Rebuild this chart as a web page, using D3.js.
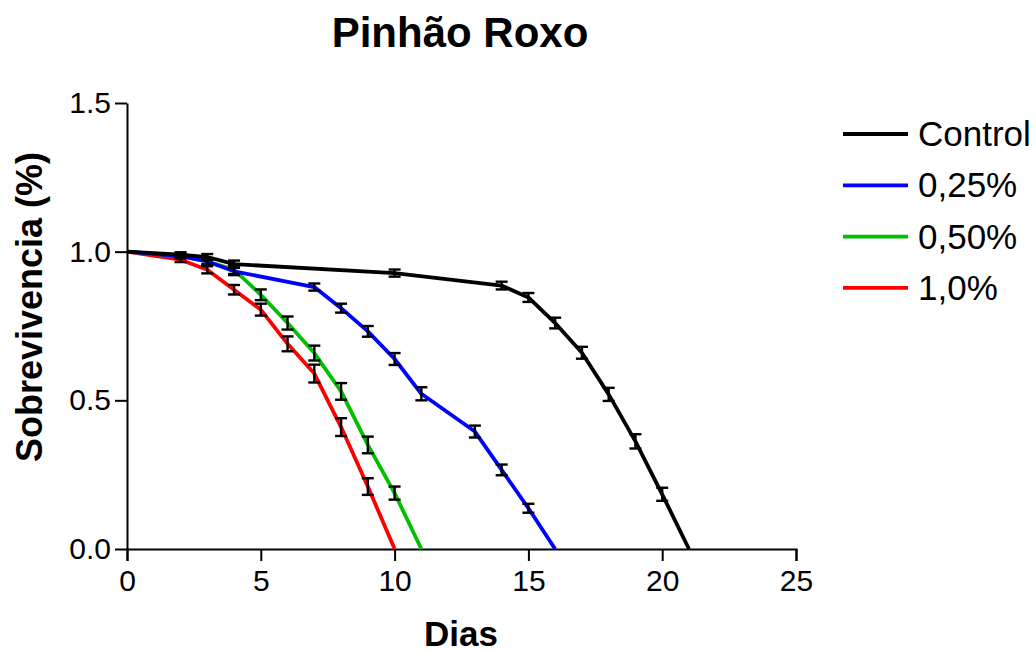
<!DOCTYPE html>
<html>
<head>
<meta charset="utf-8">
<script src="https://cdn.jsdelivr.net/npm/d3@7"></script>
<style>
  body { margin: 0; background: #fff; }
  text { font-family: Arial, "Liberation Sans", sans-serif; }
  .axis path, .axis line { stroke: #000; stroke-width: 2px; }
  .axis text { font-size: 30px; fill: #000; }
</style>
</head>
<body>
<div id="container"></div>
<script>
const width = 1036
const height = 652
const margin = { top: 103, right: 240, bottom: 103, left: 127 }
const w = width - margin.left - margin.right
const h = height - margin.top - margin.bottom

// ---------------------------- DATA ----------------------------//
const seriesNames = ['Control', '0,25%', '0,50%', '1,0%']
const seriesColors = ['#000000', '#0000ff', '#00c000', '#ff0000']

// dias, sobrevivencia, erro padrao
const controlDays = [0, 2, 3, 4, 10, 14, 15, 16, 17, 18, 19, 20, 21]
const controlVals = [1.0, 0.99, 0.982, 0.958, 0.928, 0.886, 0.846, 0.76, 0.66, 0.52, 0.362, 0.184, 0]
const controlErr = [0, 0.008, 0.01, 0.012, 0.012, 0.013, 0.015, 0.018, 0.02, 0.022, 0.024, 0.022, 0]

const d025Days = [0, 2, 3, 4, 7, 8, 9, 10, 11, 13, 14, 15, 16]
const d025Vals = [1.0, 0.985, 0.967, 0.934, 0.881, 0.81, 0.732, 0.639, 0.522, 0.395, 0.266, 0.137, 0]
const d025Err = [0, 0.008, 0.01, 0.013, 0.012, 0.015, 0.018, 0.02, 0.022, 0.02, 0.018, 0.015, 0]

const d050Days = [0, 2, 3, 4, 5, 6, 7, 8, 9, 10, 11]
const d050Vals = [1.0, 0.985, 0.967, 0.94, 0.855, 0.76, 0.659, 0.53, 0.35, 0.188, 0]
const d050Err = [0, 0, 0.01, 0.015, 0.018, 0.022, 0.025, 0.028, 0.028, 0.022, 0]

const d100Days = [0, 2, 3, 4, 5, 6, 7, 8, 9, 10]
const d100Vals = [1.0, 0.973, 0.939, 0.872, 0.805, 0.69, 0.59, 0.41, 0.21, 0]
const d100Err = [0, 0.008, 0.012, 0.016, 0.02, 0.025, 0.03, 0.03, 0.028, 0]

const xTicks = [0, 5, 10, 15, 20, 25]
const yTicks = [0.0, 0.5, 1.0, 1.5]

const toPoints = (days, vals, errs) => days.map((d, i) => ({ day: d, value: vals[i], err: errs[i] }))
const slices = [
    toPoints(controlDays, controlVals, controlErr),
    toPoints(d025Days, d025Vals, d025Err),
    toPoints(d050Days, d050Vals, d050Err),
    toPoints(d100Days, d100Vals, d100Err)
].map((values, i) => ({ id: seriesNames[i], color: seriesColors[i], values }))

// --------------------------- SVG ------------------------------//
const svg = d3.select('div#container').append('svg')
    .attr('width', width)
    .attr('height', height)

const g = svg.append('g')
    .attr('transform', `translate(${margin.left},${margin.top})`)

// ---------------------------- SCALES --------------------------//
const xScale = d3.scaleLinear().domain([0, 25]).range([0, w])
const yScale = d3.scaleLinear().domain([0, 1.5]).range([h, 0])

// ---------------------------- AXES ----------------------------//
g.append('g')
    .attr('class', 'axis')
    .attr('transform', `translate(0,${h})`)
    .call(d3.axisBottom(xScale).tickValues(xTicks).tickFormat(d3.format('d'))
        .tickSize(12).tickSizeOuter(12).tickPadding(9))

g.append('g')
    .attr('class', 'axis')
    .call(d3.axisLeft(yScale).tickValues(yTicks).tickFormat(d3.format('.1f'))
        .tickSize(12).tickSizeOuter(0).tickPadding(4))

g.selectAll('.axis .domain').attr('fill', 'none')

// ---------------------------- LINES ---------------------------//
const line = d3.line()
    .x(d => xScale(d.day))
    .y(d => yScale(d.value))

// draw red first, black on top
g.selectAll('.line')
    .data(slices.slice().reverse())
    .enter()
    .append('path')
    .attr('class', 'line')
    .attr('fill', 'none')
    .attr('stroke', d => d.color)
    .attr('stroke-width', 3.8)
    .attr('stroke-linejoin', 'round')
    .attr('d', d => line(d.values))

// ------------------------- ERROR BARS -------------------------//
const cap = 6
const bars = g.selectAll('.err')
    .data(slices.flatMap(s => s.values.filter(v => v.err > 0)))
    .enter()
    .append('g')
    .attr('class', 'err')
    .attr('stroke', '#000')
    .attr('stroke-width', 2.4)

bars.append('line')
    .attr('x1', d => xScale(d.day)).attr('x2', d => xScale(d.day))
    .attr('y1', d => yScale(d.value - d.err)).attr('y2', d => yScale(d.value + d.err))
bars.append('line')
    .attr('x1', d => xScale(d.day) - cap).attr('x2', d => xScale(d.day) + cap)
    .attr('y1', d => yScale(d.value + d.err)).attr('y2', d => yScale(d.value + d.err))
bars.append('line')
    .attr('x1', d => xScale(d.day) - cap).attr('x2', d => xScale(d.day) + cap)
    .attr('y1', d => yScale(d.value - d.err)).attr('y2', d => yScale(d.value - d.err))

// --------------------------- TITLES ---------------------------//
svg.append('text')
    .attr('x', 460).attr('y', 47)
    .attr('text-anchor', 'middle')
    .style('font-size', '42px').style('font-weight', 'bold')
    .text('Pinhão Roxo')

svg.append('text')
    .attr('x', 461).attr('y', 646)
    .attr('text-anchor', 'middle')
    .style('font-size', '35px').style('font-weight', 'bold')
    .text('Dias')

svg.append('text')
    .attr('transform', 'translate(42,307) rotate(-90)')
    .attr('text-anchor', 'middle')
    .style('font-size', '36px').style('font-weight', 'bold')
    .text('Sobrevivencia (%)')

// --------------------------- LEGEND ---------------------------//
const legend = svg.append('g')
    .attr('transform', 'translate(843,134)')
    .selectAll('g')
    .data(slices)
    .enter()
    .append('g')
    .attr('transform', (d, i) => `translate(0,${i * 51.3})`)

legend.append('line')
    .attr('x1', 0).attr('x2', 65)
    .attr('stroke', d => d.color)
    .attr('stroke-width', 3.8)

legend.append('text')
    .attr('x', 75).attr('y', 12)
    .style('font-size', '35px')
    .text(d => d.id)
</script>
</body>
</html>
